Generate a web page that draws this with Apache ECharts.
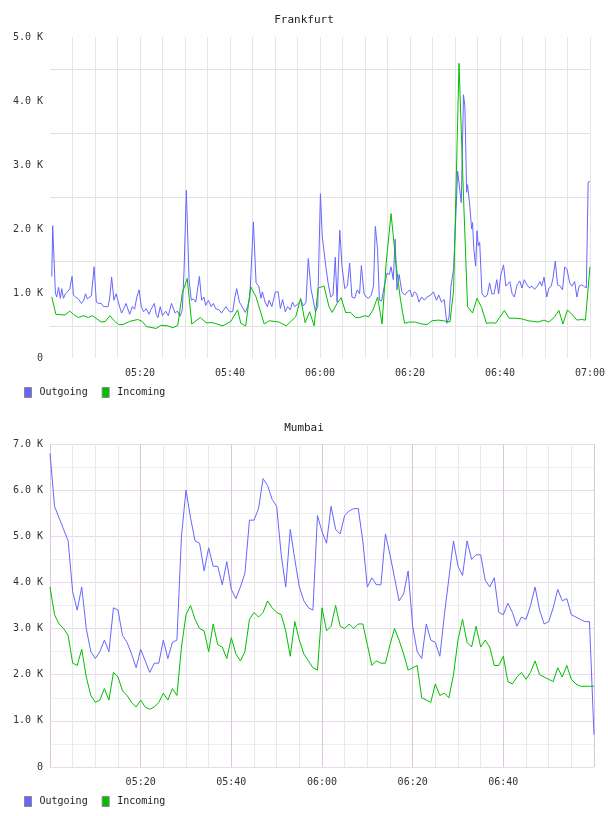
<!DOCTYPE html>
<html>
<head>
<meta charset="utf-8">
<script src="https://cdn.jsdelivr.net/npm/echarts@6/dist/echarts.min.js"></script>
<style>html,body{margin:0;padding:0;background:#fff}#c{width:608px;height:816px}</style>
</head>
<body>
<div id="c"></div>
<script>
// Time values are minutes after 05:00; values are in thousands (K)
const startHour = 5;
const xTickLabels = ['05:20', '05:40', '06:00', '06:20', '06:40', '07:00'];
const seriesNames = ['Outgoing', 'Incoming'];
const chartTitles = ['Frankfurt', 'Mumbai'];

const frkOutT = [0.4,0.6,1.2,1.5,1.9,2.3,2.6,3.0,3.4,3.9,4.4,4.9,5.2,5.7,6.3,6.6,7.0,7.5,7.9,8.3,8.6,9.2,9.8,10.3,10.8,11.4,11.9,12.4,12.9,13.3,13.7,14.2,14.7,15.3,15.9,16.4,16.9,17.7,18.3,18.8,19.3,19.8,20.3,20.8,21.4,22.0,22.4,23.2,23.6,24.0,24.5,25.0,25.7,26.3,27.0,27.8,28.3,28.9,29.4,29.8,30.3,30.9,31.4,31.9,32.4,33.2,33.7,34.2,34.6,35.2,35.8,36.3,36.8,37.6,38.1,38.6,39.1,39.5,39.9,40.6,41.1,41.5,42.1,42.7,43.4,43.9,44.4,45.2,45.8,46.4,46.9,47.2,47.8,48.3,48.7,49.3,50.1,50.7,51.2,51.7,52.3,52.8,53.4,53.9,54.4,55.2,55.8,56.3,56.9,57.4,58.0,58.5,59.0,59.5,60.1,60.5,60.9,61.2,61.8,62.4,62.9,63.4,63.8,64.4,64.9,65.5,66.1,66.6,67.1,67.7,68.3,68.8,69.2,69.8,70.3,70.8,71.4,71.9,72.3,72.8,73.2,73.7,74.3,74.9,75.4,75.8,76.3,76.7,77.1,77.6,78.2,78.8,79.4,80.0,80.5,81.0,81.5,82.0,82.6,83.2,83.8,84.6,85.2,85.9,86.4,87.0,87.6,88.2,88.7,89.1,89.7,90.6,90.9,91.4,91.6,91.9,92.2,92.6,92.8,93.3,93.7,93.9,94.2,94.6,94.9,95.2,95.5,96.0,96.6,97.2,97.7,98.2,98.7,99.3,99.7,100.2,100.8,101.3,101.7,102.2,102.7,103.2,103.8,104.4,104.9,105.4,106.0,106.6,107.1,107.7,108.3,108.9,109.3,109.8,110.4,110.9,111.4,111.8,112.3,112.8,113.4,113.9,114.4,114.9,115.5,116.0,116.6,117.1,117.6,118.1,118.6,119.2,119.6,120.0];
const frkOutV = [1.27,2.06,1.01,0.95,1.10,0.93,1.08,0.93,1.00,1.03,1.08,1.27,0.98,0.95,0.92,0.94,0.85,0.90,1.00,0.92,0.95,0.97,1.42,0.87,0.85,0.85,0.80,0.80,0.80,0.95,1.26,0.90,1.00,0.84,0.70,0.77,0.85,0.68,0.80,0.76,0.95,1.06,0.80,0.72,0.77,0.68,0.75,0.85,0.68,0.63,0.80,0.66,0.73,0.66,0.85,0.70,0.73,0.65,0.75,1.38,2.61,1.22,0.90,0.92,0.87,1.27,0.90,0.95,0.82,0.90,0.80,0.85,0.77,0.75,0.70,0.75,0.80,0.82,0.72,0.72,0.95,1.08,0.87,0.80,0.71,0.80,0.93,2.12,1.17,1.12,0.93,1.03,0.87,0.80,0.90,0.80,1.03,1.03,0.77,0.91,0.72,0.80,0.75,0.87,0.80,0.85,0.90,0.81,0.87,1.55,1.08,0.90,0.72,0.80,2.56,1.90,1.90,1.48,1.17,0.95,0.98,1.57,0.87,1.99,1.43,1.08,1.12,1.48,0.95,0.93,1.06,1.00,1.44,1.00,0.95,0.93,0.98,1.12,2.05,1.69,0.90,0.89,1.12,1.32,1.30,1.42,1.22,1.85,1.06,1.30,1.03,0.98,1.03,1.06,0.95,1.03,1.00,0.87,0.95,0.90,0.95,0.98,1.03,0.90,0.98,0.87,0.91,0.54,0.64,1.12,1.38,2.91,2.88,2.42,2.42,4.10,3.92,2.58,2.70,2.37,2.01,2.11,1.69,1.43,1.98,1.75,1.80,1.00,0.95,0.98,1.17,1.00,1.00,1.22,1.00,1.30,1.45,1.12,1.15,1.19,1.00,0.95,1.14,1.20,1.09,1.22,1.14,1.09,1.12,1.07,1.12,1.19,1.12,1.26,0.95,1.09,1.12,1.25,1.51,1.14,1.12,1.06,1.42,1.38,1.17,1.12,1.19,0.95,1.12,1.14,1.12,1.09,2.74,2.75];

const frkInT = [0.4,1.3,3.3,4.4,5.2,6.3,7.4,8.5,9.4,11.4,12.3,13.3,14.4,15.3,16.2,17.7,19.5,20.5,21.4,23.6,24.7,26.2,27.3,28.4,29.4,30.5,31.5,33.4,34.7,36.2,38.4,40.2,41.7,42.4,43.5,44.6,45.8,47.6,48.7,50.9,52.5,54.6,55.7,56.7,57.7,58.7,59.6,60.9,62.0,62.7,63.8,64.7,65.7,66.8,67.9,68.8,70.0,70.8,71.8,72.8,73.8,74.7,75.8,76.9,77.9,78.8,79.9,81.2,82.6,83.8,84.9,86.3,87.4,88.9,89.7,90.9,91.9,92.8,93.9,94.9,95.9,97.0,98.0,99.0,99.9,101.0,102.0,103.5,104.8,106.3,108.5,109.8,110.9,112.0,113.1,114.0,115.0,116.0,117.1,118.1,119.0,120.0];
const frkInV = [0.95,0.68,0.67,0.73,0.68,0.63,0.66,0.63,0.66,0.56,0.57,0.66,0.57,0.52,0.52,0.57,0.60,0.57,0.49,0.46,0.51,0.50,0.47,0.51,1.01,1.24,0.53,0.63,0.55,0.55,0.50,0.57,0.75,0.54,0.50,1.11,0.95,0.53,0.58,0.56,0.50,0.64,0.93,0.55,0.72,0.50,1.09,1.12,0.80,0.71,0.85,0.94,0.71,0.71,0.63,0.63,0.66,0.64,0.75,0.95,0.53,1.47,2.25,1.47,0.90,0.54,0.56,0.56,0.53,0.52,0.58,0.59,0.58,0.56,1.06,4.59,2.51,0.80,0.70,0.93,0.79,0.54,0.55,0.54,0.63,0.74,0.62,0.62,0.61,0.58,0.56,0.59,0.56,0.63,0.74,0.53,0.75,0.68,0.59,0.60,0.59,1.42];

// Mumbai: one point per minute, 05:00 .. 07:00
const mumOutV = [6.8,5.65,5.4,5.15,4.9,3.8,3.4,3.9,3.0,2.5,2.35,2.5,2.75,2.5,3.45,3.4,2.85,2.7,2.45,2.15,2.55,2.3,2.05,2.25,2.25,2.75,2.35,2.7,2.75,5.0,6.0,5.4,4.9,4.85,4.25,4.75,4.35,4.35,3.95,4.45,3.85,3.65,3.9,4.2,5.35,5.35,5.6,6.25,6.1,5.8,5.65,4.6,3.9,5.15,4.5,3.9,3.6,3.45,3.4,5.45,5.1,4.85,5.65,5.15,5.05,5.45,5.55,5.6,5.6,4.9,3.9,4.1,3.95,3.95,5.05,4.6,4.1,3.6,3.75,4.25,3.05,2.5,2.35,3.1,2.75,2.7,2.4,3.3,4.1,4.9,4.35,4.15,4.9,4.5,4.6,4.6,4.05,3.9,4.1,3.35,3.3,3.55,3.35,3.05,3.25,3.2,3.5,3.9,3.4,3.1,3.15,3.45,3.85,3.6,3.65,3.3,3.25,3.2,3.15,3.15,0.7];
const mumInV = [3.9,3.3,3.1,3.0,2.85,2.25,2.2,2.55,1.95,1.55,1.4,1.45,1.7,1.45,2.05,1.95,1.65,1.55,1.4,1.3,1.45,1.3,1.25,1.3,1.4,1.6,1.45,1.7,1.55,2.6,3.3,3.5,3.2,3.0,2.95,2.5,3.1,2.65,2.6,2.35,2.8,2.45,2.3,2.5,3.2,3.35,3.25,3.35,3.6,3.45,3.35,3.3,2.95,2.4,3.15,2.75,2.45,2.3,2.15,2.1,3.45,2.95,3.05,3.5,3.05,3.0,3.1,3.0,3.1,3.1,2.65,2.2,2.3,2.25,2.25,2.65,3.0,2.75,2.45,2.1,2.15,2.2,1.5,1.45,1.4,1.8,1.55,1.6,1.5,2.0,2.75,3.2,2.7,2.6,3.05,2.6,2.75,2.6,2.2,2.2,2.4,1.85,1.8,1.95,2.05,1.9,2.05,2.3,2.0,1.95,1.9,1.85,2.15,1.95,2.2,1.9,1.8,1.75,1.75,1.75,1.75];

const yMax = [5, 7];
const BLUE = '#6666ff', GREEN = '#00c000';
const MONO = '"DejaVu Sans Mono", "Liberation Mono", monospace';

function pairs(t, v) { return v.map((y, i) => [t[i], y]); }
function perMinute(v) { return v.map((y, i) => [i, y]); }
function timeLabel(m) {
  const h = startHour + Math.floor(m / 60), mm = m % 60;
  return String(h).padStart(2, '0') + ':' + String(mm).padStart(2, '0');
}
function xFmt(showEnd) {
  return function (m) {
    const s = timeLabel(Math.round(m));
    if (!xTickLabels.includes(s)) return '';
    if (!showEnd && m >= 120) return '';
    return s;
  };
}
function yFmt(v) {
  if (Math.abs(v - Math.round(v)) > 1e-6) return '';
  return v === 0 ? '0' : v.toFixed(1) + ' K';
}
const labelStyle = { fontFamily: MONO, fontSize: 10, color: '#333' };

const chart = echarts.init(document.getElementById('c'), null, { renderer: 'canvas' });
chart.setOption({
  animation: false,
  backgroundColor: '#fff',
  title: [
    { text: chartTitles[0], left: 'center', top: 15, padding: 0, textStyle: { fontFamily: MONO, fontSize: 11, fontWeight: 'normal', color: '#222' } },
    { text: chartTitles[1], left: 'center', top: 423, padding: 0, textStyle: { fontFamily: MONO, fontSize: 11, fontWeight: 'normal', color: '#222' } }
  ],
  legend: [
    { data: seriesNames, left: 24, top: 387, padding: 0, icon: 'rect', itemWidth: 7, itemHeight: 10, itemGap: 14,
      itemStyle: { borderColor: '#888', borderWidth: 1 }, textStyle: { fontFamily: MONO, fontSize: 10, color: '#222', padding: [0, 0, 0, 3] } },
    { data: seriesNames, left: 24, top: 796, padding: 0, icon: 'rect', itemWidth: 7, itemHeight: 10, itemGap: 14,
      itemStyle: { borderColor: '#888', borderWidth: 1 }, textStyle: { fontFamily: MONO, fontSize: 10, color: '#222', padding: [0, 0, 0, 3] } }
  ],
  grid: [
    { left: 50, top: 37, width: 542, height: 321, containLabel: false },
    { left: 50, top: 444, width: 544, height: 323, containLabel: false }
  ],
  xAxis: [
    { type: 'value', gridIndex: 0, min: 0, max: 120, interval: 5,
      axisLine: { show: false }, axisTick: { show: false },
      axisLabel: Object.assign({ formatter: xFmt(true), margin: 10, showMaxLabel: true }, labelStyle),
      splitLine: { show: true, showMinLine: false, lineStyle: { color: '#e6e6e6', width: 1 } } },
    { type: 'value', gridIndex: 1, min: 0, max: 120, interval: 5,
      axisLine: { show: false }, axisTick: { show: false },
      axisLabel: Object.assign({ formatter: xFmt(false), margin: 10 }, labelStyle),
      splitLine: { show: true, lineStyle: { color: ['#dcc6dc', '#e9e9e9', '#e9e9e9', '#e9e9e9'], width: 1 } } }
  ],
  yAxis: [
    { type: 'value', gridIndex: 0, min: 0, max: yMax[0], interval: 0.5,
      axisLine: { show: false }, axisTick: { show: false },
      axisLabel: Object.assign({ formatter: yFmt, margin: 7 }, labelStyle),
      splitLine: { show: true, lineStyle: { color: ['rgba(0,0,0,0)', '#e2e2e2'], width: 1 } } },
    { type: 'value', gridIndex: 1, min: 0, max: yMax[1], interval: 0.5,
      axisLine: { show: false }, axisTick: { show: false },
      axisLabel: Object.assign({ formatter: yFmt, margin: 7 }, labelStyle),
      splitLine: { show: true, lineStyle: { color: ['#ecd8ec', '#efefef'], width: 1 } } }
  ],
  series: [
    { name: seriesNames[0], type: 'line', xAxisIndex: 0, yAxisIndex: 0, data: pairs(frkOutT, frkOutV), showSymbol: false, color: BLUE, lineStyle: { width: 1, color: BLUE } },
    { name: seriesNames[1], type: 'line', xAxisIndex: 0, yAxisIndex: 0, data: pairs(frkInT, frkInV), showSymbol: false, color: GREEN, lineStyle: { width: 1, color: GREEN } },
    { name: seriesNames[0], type: 'line', xAxisIndex: 1, yAxisIndex: 1, data: perMinute(mumOutV), showSymbol: false, color: BLUE, lineStyle: { width: 1, color: BLUE } },
    { name: seriesNames[1], type: 'line', xAxisIndex: 1, yAxisIndex: 1, data: perMinute(mumInV), showSymbol: false, color: GREEN, lineStyle: { width: 1, color: GREEN } }
  ]
});
</script>
</body>
</html>
